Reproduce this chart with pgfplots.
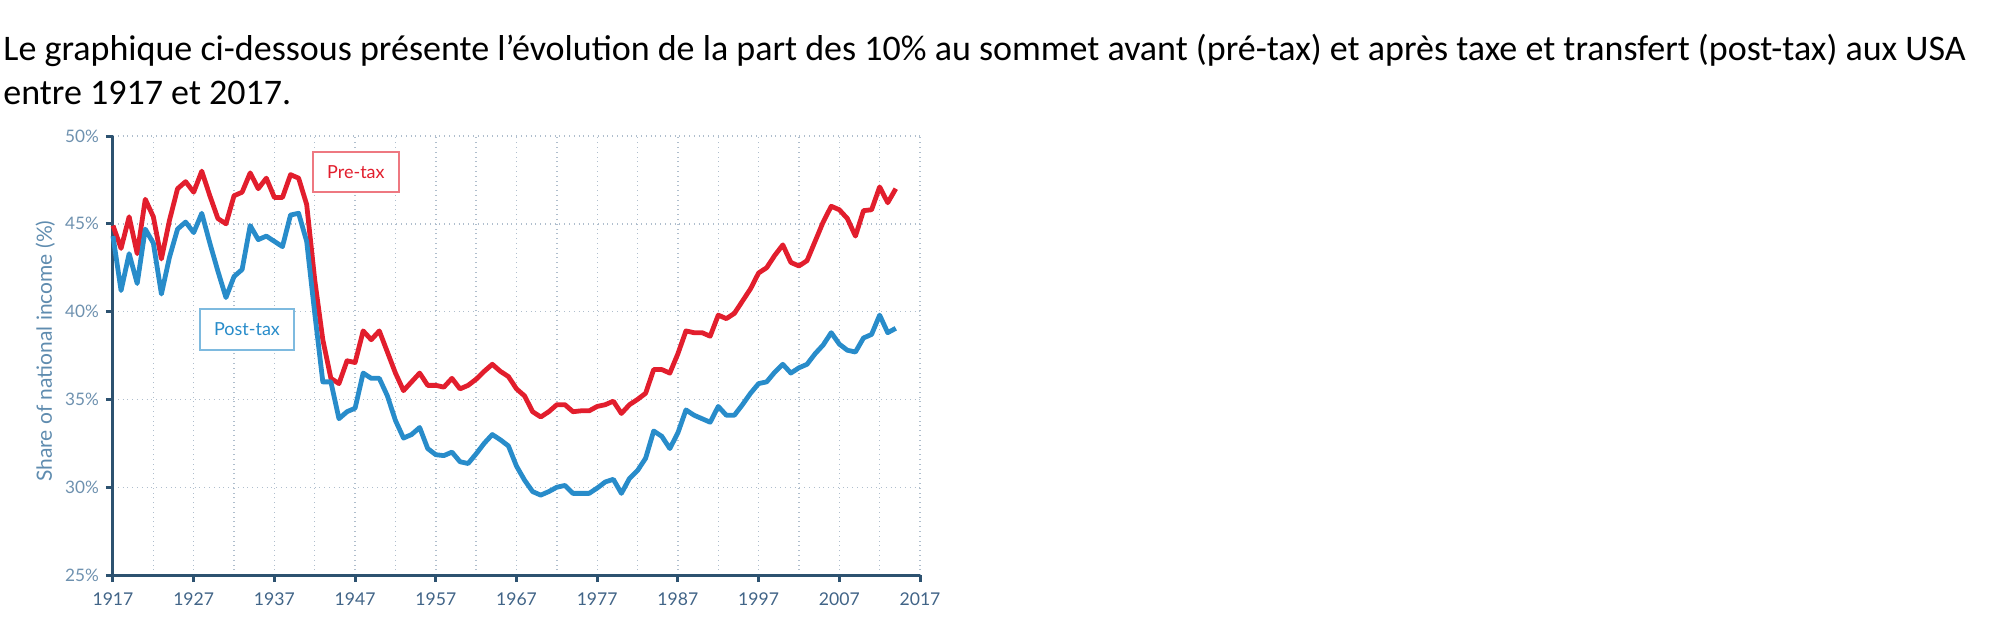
\documentclass[border=0pt]{standalone}
\usepackage{pgfplots}
\usepackage{pgfplotstable}
\pgfplotsset{compat=1.18}
\usepackage{fontspec}
\setmainfont{Carlito}
\newfontfamily\lato{Lato}

\definecolor{pretax}{RGB}{226,30,45}
\definecolor{posttax}{RGB}{40,140,202}
\definecolor{axiscol}{RGB}{45,82,112}
\definecolor{gridcol}{RGB}{175,190,205}
\definecolor{ylabcol}{RGB}{95,140,175}
\definecolor{yticcol}{RGB}{110,145,175}
\definecolor{xticcol}{RGB}{65,100,135}

% year, top 10% share pre-tax and post-tax (% of national income)
\pgfplotstableread{
year pre post
1917 44.9 44.3
1918 43.6 41.2
1919 45.4 43.3
1920 43.3 41.6
1921 46.4 44.7
1922 45.4 43.9
1923 43.0 41.0
1924 45.2 43.1
1925 47.0 44.7
1926 47.4 45.1
1927 46.8 44.5
1928 48.0 45.6
1929 46.6 43.9
1930 45.3 42.3
1931 45.0 40.8
1932 46.6 42.0
1933 46.8 42.4
1934 47.9 44.9
1935 47.0 44.1
1936 47.6 44.3
1937 46.5 44.0
1938 46.5 43.7
1939 47.8 45.5
1940 47.6 45.6
1941 46.1 44.0
1942 41.8 39.9
1943 38.4 36.0
1944 36.2 36.0
1945 35.9 33.9
1946 37.2 34.3
1947 37.1 34.5
1948 38.9 36.5
1949 38.4 36.2
1950 38.9 36.2
1951 37.7 35.2
1952 36.5 33.8
1953 35.5 32.8
1954 36.0 33.0
1955 36.5 33.4
1956 35.8 32.2
1957 35.8 31.85
1958 35.7 31.8
1959 36.2 32.0
1960 35.6 31.45
1961 35.8 31.35
1962 36.15 31.9
1963 36.6 32.5
1964 37.0 33.0
1965 36.6 32.7
1966 36.3 32.35
1967 35.6 31.2
1968 35.2 30.4
1969 34.3 29.75
1970 34.0 29.55
1971 34.3 29.75
1972 34.7 30.0
1973 34.7 30.1
1974 34.3 29.65
1975 34.35 29.65
1976 34.35 29.65
1977 34.6 29.95
1978 34.7 30.3
1979 34.9 30.45
1980 34.2 29.65
1981 34.7 30.5
1982 35.0 30.95
1983 35.35 31.65
1984 36.7 33.2
1985 36.7 32.9
1986 36.5 32.2
1987 37.6 33.1
1988 38.9 34.4
1989 38.8 34.1
1990 38.8 33.9
1991 38.6 33.7
1992 39.8 34.6
1993 39.6 34.1
1994 39.9 34.1
1995 40.6 34.7
1996 41.3 35.35
1997 42.2 35.9
1998 42.5 36.0
1999 43.2 36.55
2000 43.8 37.0
2001 42.8 36.5
2002 42.6 36.8
2003 42.9 37.0
2004 44.0 37.6
2005 45.1 38.1
2006 46.0 38.8
2007 45.8 38.15
2008 45.3 37.8
2009 44.3 37.7
2010 45.75 38.5
2011 45.8 38.7
2012 47.1 39.8
2013 46.2 38.8
2014 47.0 39.05
}\shares

\begin{document}
\begin{tikzpicture}
\path[use as bounding box] (0,0) rectangle (1007.5pt,-311.5pt);

\node[anchor=base west, inner sep=0pt, font=\fontsize{18}{21}\selectfont] at (1.5pt,-30pt)
  {Le graphique ci-dessous présente l’évolution de la part des 10\% au sommet avant (pré-tax) et après taxe et transfert (post-tax) aux USA};
\node[anchor=base west, inner sep=0pt, font=\fontsize{18}{21}\selectfont] at (1.5pt,-52pt)
  {entre 1917 et 2017.};

\begin{axis}[
  at={(56.5pt,-287.5pt)}, anchor=south west,
  scale only axis, width=403.5pt, height=219.5pt,
  xmin=1917, xmax=2017, ymin=25, ymax=50,
  axis x line=bottom, axis y line=left,
  axis line style={-, color=axiscol, line width=1.5pt},
  xtick={1917,1927,...,2017},
  xticklabels={1917,1927,1937,1947,1957,1967,1977,1987,1997,2007,2017},
  minor x tick num=1,
  ytick={25,30,...,50},
  yticklabels={25\%,30\%,35\%,40\%,45\%,50\%},
  tick align=outside,
  major tick length=3.5pt, minor tick length=0pt,
  tick style={color=axiscol, line width=1.5pt},
  grid=both,
  major grid style={dotted, color=gridcol, line width=0.7pt},
  minor grid style={dotted, color=gridcol, line width=0.7pt},
  xticklabel style={font=\lato\fontsize{8.8}{10}\selectfont, color=xticcol, yshift=-2pt},
  yticklabel style={font=\lato\fontsize{8.6}{10}\selectfont, color=yticcol},
  ylabel={Share of national income (\%)},
  ylabel style={font=\lato\fontsize{10.5}{12}\selectfont, color=ylabcol,
    at={(axis description cs:-0.084,0.51)}, anchor=center},
  clip=false,
]
\addplot[pretax, line width=2.4pt, line join=round] table[x=year, y=pre] {\shares};
\addplot[posttax, line width=2.4pt, line join=round] table[x=year, y=post] {\shares};
\node[draw=pretax!60, line width=0.8pt, fill=white, minimum width=43pt, minimum height=20pt,
  inner sep=0pt, font=\lato\fontsize{9}{10}\selectfont, text=pretax]
  at (axis cs:1947.1,47.95) {Pre-tax};
\node[draw=posttax!60, line width=0.8pt, fill=white, minimum width=47pt, minimum height=20.5pt,
  inner sep=0pt, font=\lato\fontsize{9}{10}\selectfont, text=posttax]
  at (axis cs:1933.6,38.98) {Post-tax};
\end{axis}
\end{tikzpicture}
\end{document}
